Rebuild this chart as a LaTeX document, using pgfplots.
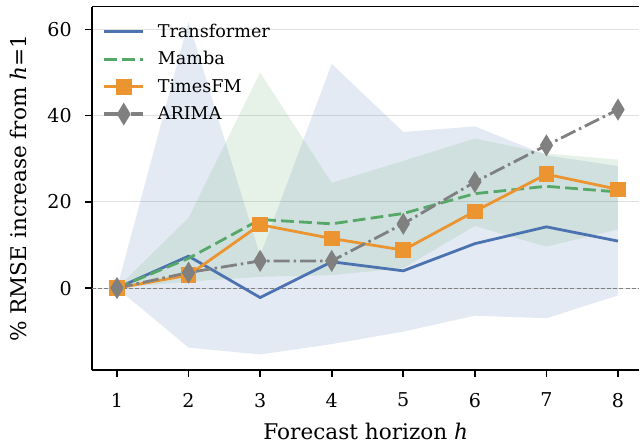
\documentclass[border=0pt]{standalone}
\usepackage{pgfplots}
\pgfplotsset{compat=1.18}
\usepackage{fontspec}
\setmainfont{DejaVu Serif}

\definecolor{cTrans}{RGB}{76,114,176}
\definecolor{cMamba}{RGB}{85,168,104}
\definecolor{cTimes}{RGB}{236,148,48}
\definecolor{cArima}{RGB}{128,128,128}

\newcommand\tickfont{\fontsize{14.3}{17}\selectfont}
\newcommand\legfont{\fontsize{13.2}{15.8}\selectfont}
\newcommand\labfont{\fontsize{16.2}{19}\selectfont}

\begin{document}
\begin{tikzpicture}
  \begin{axis}[
    scale only axis,
    width=410.6pt, height=272.6pt,
    xmin=0.651, xmax=8.30,
    ymin=-19.0, ymax=65.3,
    axis x line*=box, axis y line*=left,
    xtick pos=left, ytick pos=left,
    axis line style={line width=1.2pt, black},
    xtick={1,...,8},
    ytick={0,20,40,60},
    tick align=outside,
    major tick length=5.2pt,
    every tick/.style={line width=1.2pt, black},
    ymajorgrids,
    major grid style={line width=0.75pt, black!12},
    tick label style={font=\tickfont},
    xticklabel style={yshift=-8.5pt},
    yticklabel style={xshift=-6.5pt},
    /pgf/number format/assume math mode=true,
    xlabel={Forecast horizon \textit{h}},
    ylabel={\% RMSE increase from \textit{h}=1},
    xlabel style={font=\labfont, at={(axis description cs:0.5,-0.168)}, anchor=center},
    ylabel style={font=\labfont, at={(axis description cs:-0.135,0.5)}, anchor=center},
    legend style={draw=none, fill=none, font=\legfont,
      at={(axis description cs:0.012,0.968)}, anchor=north west,
      row sep=5.3pt,
      nodes={inner sep=2pt}},
    legend cell align=left,
    legend image code/.code={
      \draw[mark repeat=2, mark phase=2, #1, line width=2.4pt]
        plot coordinates {(0pt,0pt) (14.5pt,0pt) (29pt,0pt)};
      \path (37pt,0pt);},
  ]
    \coordinate (sw) at (rel axis cs:0,0);
    \coordinate (ne) at (rel axis cs:1,1);

    % uncertainty bands
    \addplot[draw=none, fill=cTrans, fill opacity=0.15, forget plot] coordinates {
      (1,0) (2,61.8) (3,7.5) (4,52.0) (5,36.2) (6,37.5) (7,30.8) (8,28.3)
      (8,-1.7) (7,-7.0) (6,-6.4) (5,-10.1) (4,-13.0) (3,-15.4) (2,-13.8) (1,0)
    } -- cycle;
    \addplot[draw=none, fill=cMamba, fill opacity=0.15, forget plot] coordinates {
      (1,0) (2,16.3) (3,50.0) (4,24.4) (5,29.5) (6,34.7) (7,31.2) (8,29.8)
      (8,13.6) (7,9.6) (6,14.4) (5,4.6) (4,3.0) (3,2.6) (2,1.5) (1,0)
    } -- cycle;

    % zero line
    \addplot[forget plot, cArima, line width=0.75pt, dash pattern=on 3pt off 1.6pt]
      coordinates {(0.651,0) (8.30,0)};

    \addplot[cTrans, line width=2.1pt] coordinates {
      (1,0) (2,7.4) (3,-2.2) (4,6.1) (5,4.0) (6,10.3) (7,14.2) (8,10.9)};
    \addlegendentry{Transformer}
    \addplot[cMamba, line width=2.1pt, dash pattern=on 9.5pt off 4pt] coordinates {
      (1,0) (2,6.9) (3,15.9) (4,14.9) (5,17.3) (6,21.9) (7,23.6) (8,22.3)};
    \addlegendentry{Mamba}
    \addplot[cTimes, line width=2.1pt, mark=square*, mark size=4.8pt,
      mark options={solid}] coordinates {
      (1,0) (2,3.0) (3,14.7) (4,11.5) (5,8.8) (6,17.8) (7,26.4) (8,22.9)};
    \addlegendentry{TimesFM}
    \addplot[cArima, line width=2.1pt, dash pattern=on 12pt off 3pt on 1.9pt off 3pt,
      mark=diamond*, mark size=6.3pt, mark options={solid, xscale=0.8}] coordinates {
      (1,0) (2,3.6) (3,6.3) (4,6.3) (5,14.9) (6,24.6) (7,33.1) (8,41.4)};
    \addlegendentry{ARIMA}
  \end{axis}
  \pgfresetboundingbox
  \useasboundingbox ([shift={(-69pt,-55.5pt)}]sw) rectangle ([shift={(0.4pt,4.9pt)}]ne);
\end{tikzpicture}
\end{document}
